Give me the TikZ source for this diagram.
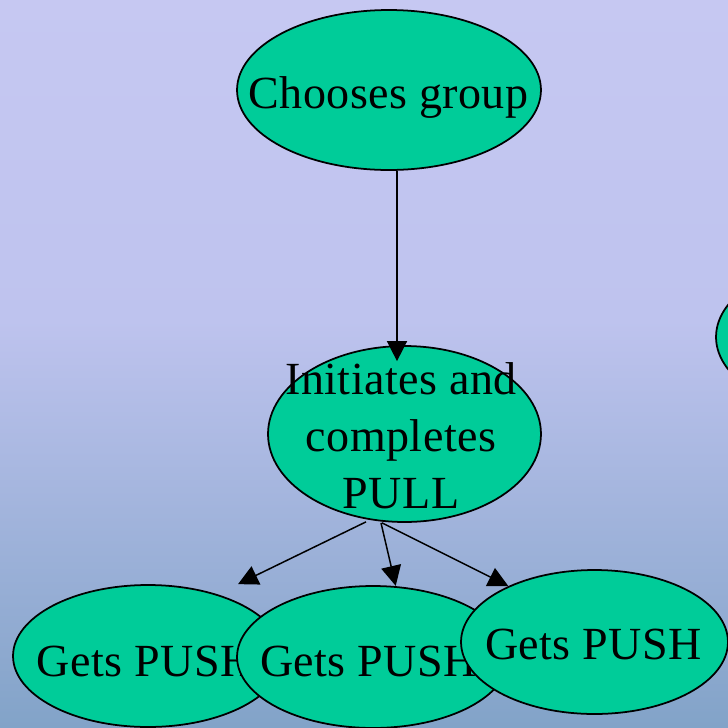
\documentclass[tikz,border=0pt]{standalone}
\usepackage{fontspec}
\setmainfont{Liberation Serif}[LetterSpace=1]
\usetikzlibrary{shapes.geometric,arrows.meta,calc}

\definecolor{bgtop}{RGB}{198,200,242}
\definecolor{bgmid}{RGB}{190,195,238}
\definecolor{bgbot}{RGB}{130,163,200}
\definecolor{bubblegreen}{RGB}{0,204,153}

\tikzset{
    bubble/.style={ellipse,draw,line width=1pt,fill=bubblegreen,inner sep=0pt},
    caption/.style={font=\fontsize{26.2}{32.4}\selectfont,anchor=base,align=center,inner sep=0pt},
    edge/.style={line width=0.85pt,-{Triangle[length=0.4cm,width=0.4cm]}}
}

\begin{document}
\begin{tikzpicture}[x=0.02cm,y=-0.02cm]
\clip (0,0) rectangle (728,728);
\shade [top color=bgtop,bottom color=bgmid] (0,0) rectangle (728,320);
\shade [top color=bgmid,bottom color=bgbot] (0,320) rectangle (728,728);

\path
    (389,90) node [bubble,minimum width=6.08cm,minimum height=3.2cm] (choose) {}
    (404.5,434) node [bubble,minimum width=5.46cm,minimum height=3.52cm] (pull) {}
    (852,337) node [bubble,minimum width=5.44cm,minimum height=3.12cm] (offside) {};
\path
    (388.5,108) node [caption] (choose-txt) {Chooses group}
    (401,508) node [caption] (pull-txt) {Initiates and\\completes\\PULL};

% the three receivers, drawn left to right so each one covers the last
\path
    (148,656) node [bubble,minimum width=5.4cm,minimum height=2.84cm] (push1) {}
    (145,676) node [caption] (push1-txt) {Gets PUSH}
    (373,657) node [bubble,minimum width=5.44cm,minimum height=2.84cm] (push2) {}
    (368.5,676) node [caption] (push2-txt) {Gets PUSH}
    (594.5,642) node [bubble,minimum width=5.34cm,minimum height=2.88cm] (push3) {}
    (593.5,659) node [caption] (push3-txt) {Gets PUSH};

\draw [edge] ($(choose.south)+(8,0)$) -- ($(pull.north)+(-7.5,16)$);
\draw [edge] ($(pull.south)+(-38.5,-1)$) -- ($(push1.north)+(90,0)$);
\draw [edge] ($(pull.south)+(-23.5,0)$) -- ($(push2.north)+(22.7,0.7)$);
\draw [edge] ($(pull.south)+(-22.5,0)$) -- ($(push3.center)+(-86.2,-56)$);
\end{tikzpicture}
\end{document}
